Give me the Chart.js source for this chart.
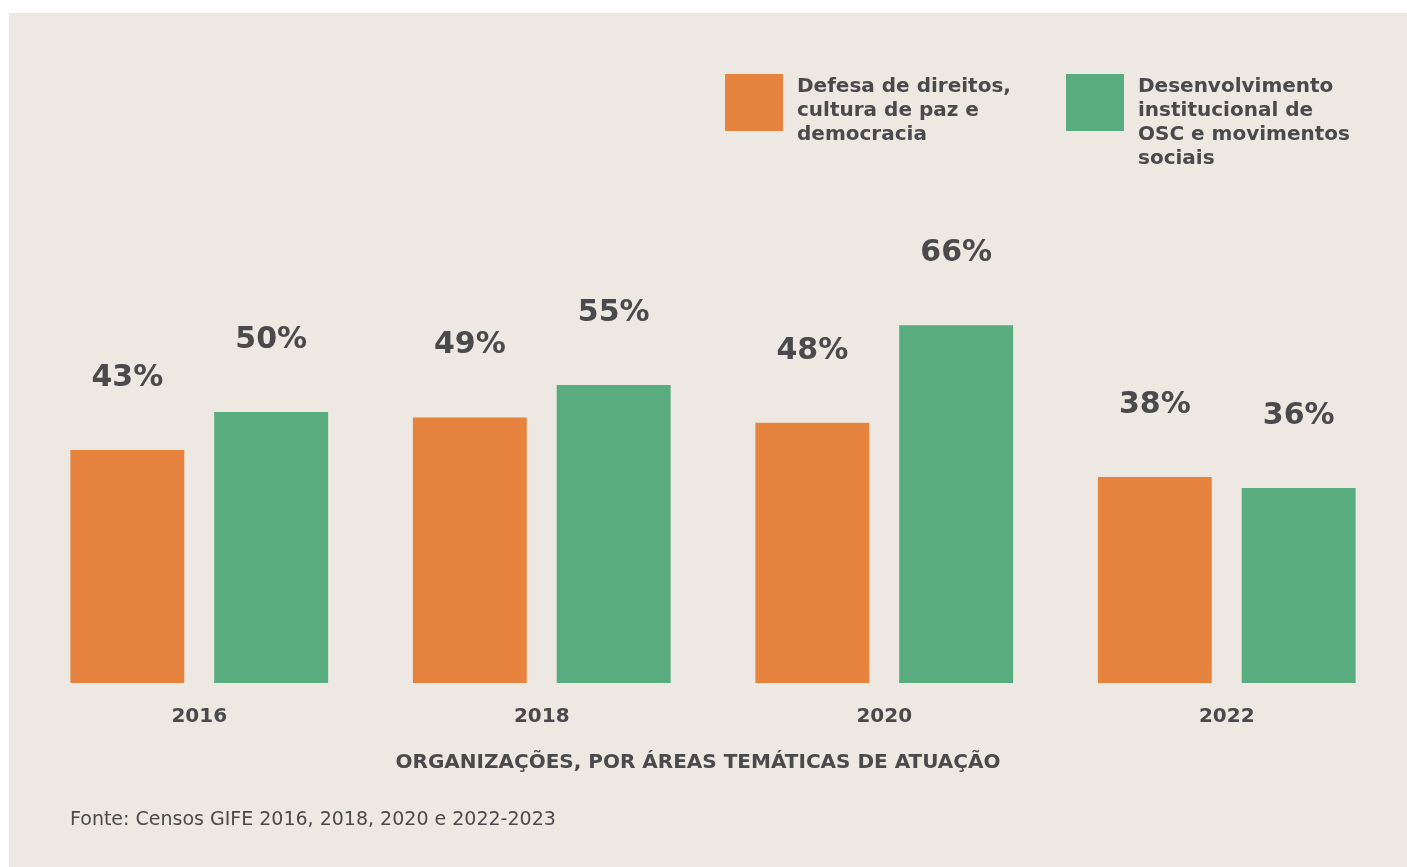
<!DOCTYPE html>
<html>

<head>
  <title>Organizações por áreas temáticas</title>
  <script src="https://cdn.jsdelivr.net/npm/chart.js"></script>
  <style>
    body { margin: 0; background: #ffffff; }
    #box { position: absolute; left: 9px; top: 13px; width: 1398px; height: 854px; background: #ede8e2; }
  </style>
</head>

<body>
  <div id="box"><canvas id="myChart" width="1398" height="854"></canvas></div>
  <script>
    // data
    var years = ['2016', '2018', '2020', '2022'];
    var defesa = [43, 49, 48, 38];
    var desenvolvimento = [50, 55, 66, 36];
    var legendDefesa = ['Defesa de direitos,', 'cultura de paz e', 'democracia'];
    var legendDesenv = ['Desenvolvimento', 'institucional de', 'OSC e movimentos', 'sociais'];
    var axisTitle = 'ORGANIZAÇÕES, POR ÁREAS TEMÁTICAS DE ATUAÇÃO';
    var source = 'Fonte: Censos GIFE 2016, 2018, 2020 e 2022-2023';

    var ORANGE = '#e6843f';
    var GREEN = '#59ac80';
    var TEXT = '#4a4a4c';

    // value labels, legend and footer texts
    var extras = {
      id: 'extras',
      afterDatasetsDraw: function (chart) {
        var ctx = chart.ctx;
        ctx.save();
        ctx.fillStyle = TEXT;
        ctx.textAlign = 'center';
        ctx.textBaseline = 'middle';
        ctx.font = 'bold 30px "DejaVu Sans"';
        chart.data.datasets.forEach(function (ds, i) {
          chart.getDatasetMeta(i).data.forEach(function (bar, j) {
            ctx.fillText(ds.data[j] + '%', bar.x, bar.y - 72);
          });
        });

        // legend
        function legendItem(x, color, lines) {
          ctx.fillStyle = color;
          ctx.fillRect(x, 61, 58, 57);
          ctx.fillStyle = TEXT;
          ctx.textAlign = 'left';
          ctx.font = 'bold 20px "DejaVu Sans"';
          lines.forEach(function (l, k) {
            ctx.fillText(l, x + 72, 74 + k * 24);
          });
        }
        legendItem(716, ORANGE, legendDefesa);
        legendItem(1057, GREEN, legendDesenv);

        ctx.textAlign = 'center';
        ctx.font = 'bold 20px "DejaVu Sans"';
        ctx.fillText(axisTitle, 689, 750);

        ctx.textAlign = 'left';
        ctx.font = '19px "DejaVu Sans"';
        ctx.fillText(source, 61, 807);
        ctx.restore();
      }
    };

    var ctx = document.getElementById('myChart').getContext('2d');
    var chart = new Chart(ctx, {
      type: 'bar',
      data: {
        labels: years,
        datasets: [
          {
            label: 'Defesa de direitos, cultura de paz e democracia',
            data: defesa,
            backgroundColor: ORANGE,
            categoryPercentage: 0.84,
            barPercentage: 0.792
          },
          {
            label: 'Desenvolvimento institucional de OSC e movimentos sociais',
            data: desenvolvimento,
            backgroundColor: GREEN,
            categoryPercentage: 0.84,
            barPercentage: 0.792
          }
        ]
      },
      options: {
        responsive: false,
        animation: false,
        layout: { padding: { left: 19, right: 9, top: 128, bottom: 116 } },
        plugins: {
          legend: { display: false },
          tooltip: { enabled: false }
        },
        scales: {
          x: {
            grid: { display: false, drawTicks: false },
            border: { display: false },
            ticks: {
              color: TEXT,
              font: { family: 'DejaVu Sans', weight: 'bold', size: 20 },
              padding: 22
            }
          },
          y: {
            display: false,
            min: 0,
            max: 100
          }
        }
      },
      plugins: [extras]
    });
  </script>
</body>

</html>
